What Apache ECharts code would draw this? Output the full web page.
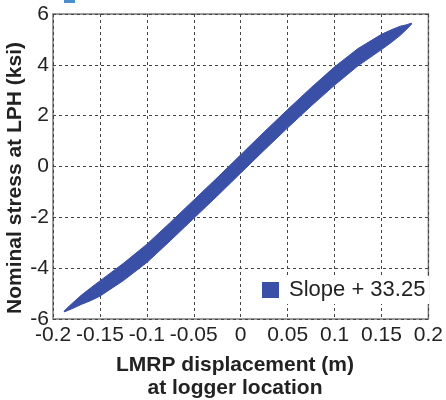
<!DOCTYPE html>
<html>
<head>
<meta charset="utf-8">
<script src="https://cdn.jsdelivr.net/npm/echarts@6/dist/echarts.min.js"></script>
<style>
  * { margin: 0; padding: 0; }
  body { background: #fff; }
</style>
</head>
<body>
<div id="main" style="width: 446px;height: 400px;"></div>
<script>
  // edges of the hysteresis band
  var dispX = [-0.188, -0.18, -0.17, -0.16, -0.15, -0.125, -0.1, -0.075, -0.05, -0.025, 0, 0.025, 0.05, 0.075, 0.1, 0.125, 0.15, 0.16, 0.17, 0.176, 0.182]
  var upperY = [-5.68, -5.40, -5.07, -4.78, -4.50, -3.81, -3.06, -2.20, -1.32, -0.44, 0.46, 1.36, 2.24, 3.10, 3.92, 4.64, 5.20, 5.37, 5.52, 5.57, 5.64]
  var lowerY = [-5.72, -5.60, -5.43, -5.28, -5.10, -4.49, -3.78, -2.92, -2.04, -1.16, -0.26, 0.64, 1.52, 2.38, 3.20, 3.96, 4.60, 4.87, 5.16, 5.37, 5.60]
  var xTicks = [-0.2, 0.2, 0.05]
  var yTicks = [-6, 6, 2]
  var seriesName = 'Slope + 33.25'

  var blue = '#3a4fa6'
  var tickFont = "'Liberation Sans Narrow', 'Liberation Sans', sans-serif"

  var myChart = echarts.init(document.getElementById('main'))
  var option = {
    animation: false,
    grid: {
      left: 53, right: 3, top: 14, bottom: 81,
      show: true, borderColor: '#7a7a7a', borderWidth: 1.5, backgroundColor: '#fff'
    },
    legend: {
      data: [{ name: seriesName, icon: 'rect' }],
      left: 258, top: 276,
      padding: [3, 4],
      backgroundColor: '#fff',
      itemWidth: 17, itemHeight: 16,
      textStyle: { fontSize: 22, color: '#222', fontFamily: 'Liberation Sans', padding: [0, 0, 0, 5] }
    },
    xAxis: {
      type: 'value',
      min: xTicks[0], max: xTicks[1], interval: xTicks[2],
      axisLine: { show: false },
      axisTick: { show: false },
      axisLabel: { fontSize: 21, color: '#222', fontFamily: tickFont, margin: 6 },
      splitLine: { show: true, lineStyle: { color: '#444', type: [3, 3], width: 1 } }
    },
    yAxis: {
      type: 'value',
      min: yTicks[0], max: yTicks[1], interval: yTicks[2],
      axisLine: { show: false },
      axisTick: { show: false },
      axisLabel: { fontSize: 21, color: '#222', fontFamily: tickFont, margin: 4 },
      splitLine: { show: true, lineStyle: { color: '#444', type: [3, 3], width: 1 } }
    },
    graphic: [
      { type: 'rect', x: 64, y: 0, shape: { width: 11, height: 3 }, style: { fill: '#4a8fc9' } },
      {
        type: 'text', x: 15, y: 178, rotation: Math.PI / 2,
        style: {
          text: 'Nominal stress at LPH (ksi)', fontSize: 21, fontWeight: 'bold',
          fill: '#222', fontFamily: 'Liberation Sans', align: 'center', verticalAlign: 'middle'
        }
      },
      {
        type: 'text', x: 235, y: 377,
        style: {
          text: 'LMRP displacement (m)\nat logger location', fontSize: 21, fontWeight: 'bold', lineHeight: 23,
          fill: '#222', fontFamily: 'Liberation Sans', align: 'center', verticalAlign: 'middle'
        }
      }
    ],
    series: [{
      name: seriesName,
      type: 'custom',
      clip: true,
      itemStyle: { color: blue },
      data: [0],
      renderItem: function (params, api) {
        var pts = []
        for (var i = 0; i < dispX.length; i++) pts.push(api.coord([dispX[i], upperY[i]]))
        for (var j = dispX.length - 1; j >= 0; j--) pts.push(api.coord([dispX[j], lowerY[j]]))
        return {
          type: 'polygon',
          shape: { points: pts },
          style: { fill: blue, stroke: blue, lineWidth: 1 }
        }
      }
    }]
  }
  myChart.setOption(option)
</script>
</body>
</html>
